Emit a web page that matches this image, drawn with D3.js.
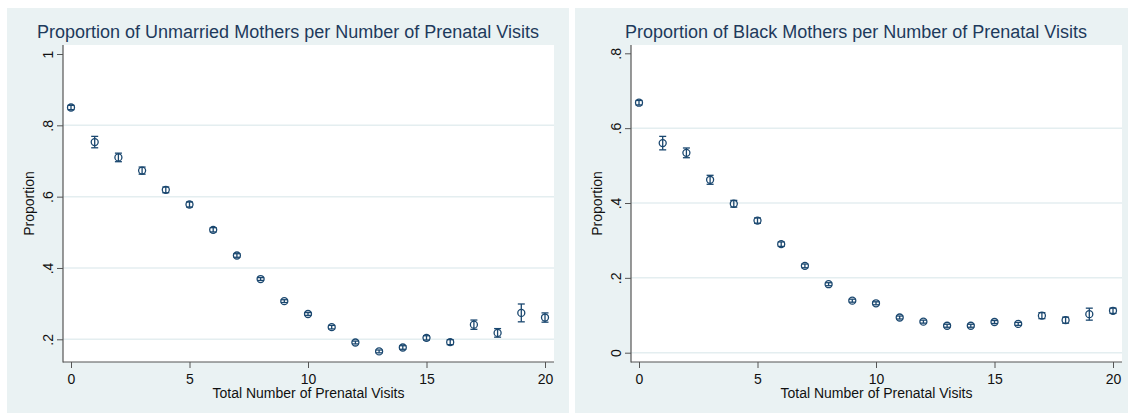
<!DOCTYPE html>
<html>
<head>
<meta charset="utf-8">
<script src="https://cdn.jsdelivr.net/npm/d3@7"></script>
<style>
  html, body { margin: 0; padding: 0; background: #ffffff; }
  svg { display: block; font-family: "Liberation Sans", Arial, sans-serif; }
</style>
</head>
<body>
<svg id="chart" width="1128" height="413"></svg>
<script>
// Number of prenatal visits (x categories)
const visits = [0, 1, 2, 3, 4, 5, 6, 7, 8, 9, 10, 11, 12, 13, 14, 15, 16, 17, 18, 19, 20];

// Proportion of unmarried mothers and the half-width of its confidence interval
const unmarriedProp = [0.850, 0.753, 0.710, 0.673, 0.619, 0.578, 0.507, 0.435, 0.369, 0.307, 0.271,
                       0.234, 0.191, 0.166, 0.177, 0.204, 0.192, 0.241, 0.218, 0.274, 0.261];
const unmarriedErr  = [0.006, 0.016, 0.012, 0.010, 0.008, 0.007, 0.006, 0.005, 0.004, 0.004, 0.004,
                       0.005, 0.004, 0.004, 0.005, 0.006, 0.007, 0.013, 0.012, 0.025, 0.013];

// Proportion of black mothers and the half-width of its confidence interval
const blackProp = [0.668, 0.560, 0.534, 0.462, 0.398, 0.353, 0.290, 0.232, 0.183, 0.139, 0.132,
                   0.094, 0.083, 0.072, 0.072, 0.082, 0.077, 0.099, 0.087, 0.103, 0.112];
const blackErr  = [0.006, 0.018, 0.013, 0.012, 0.009, 0.007, 0.006, 0.005, 0.004, 0.004, 0.004,
                   0.004, 0.004, 0.004, 0.004, 0.004, 0.004, 0.008, 0.008, 0.016, 0.007];

// Axis ticks
const xTicks = [0, 5, 10, 15, 20];
const unmarriedYTicks = [0.2, 0.4, 0.6, 0.8, 1];
const blackYTicks = [0, 0.2, 0.4, 0.6, 0.8];

// Titles
const unmarriedTitle = "Proportion of Unmarried Mothers per Number of Prenatal Visits";
const blackTitle = "Proportion of Black Mothers per Number of Prenatal Visits";
const xTitle = "Total Number of Prenatal Visits";
const yTitle = "Proportion";

const NAVY = "#1a476f";
const BG = "#eaf2f3";
const GRID = "#e4eef0";
const AXIS = "#555555";

const svg = d3.select("#chart");

// Stata-like tick label: ".2", ".4", "0", "1"
const fmt = v => (v === 0 ? "0" : v === 1 ? "1" : String(+v.toFixed(2)).replace(/^0/, ""));

function drawPanel(opt) {
  const px = opt.x0;               // panel left edge
  const W = 562, top = 8;
  const plot = { left: px + 56, right: px + 547, top: 45, bottom: 362 };

  const g = svg.append("g");

  // panel background and plot region
  g.append("rect").attr("x", px).attr("y", top).attr("width", W).attr("height", 413 - top)
    .attr("fill", BG);
  g.append("rect").attr("x", plot.left).attr("y", plot.top)
    .attr("width", plot.right - plot.left).attr("height", plot.bottom - plot.top)
    .attr("fill", "#ffffff");

  const x = d3.scaleLinear().domain([0, 20]).range([px + 64, px + 538]);
  const y = d3.scaleLinear().domain(opt.yDomain).range(opt.yRange);

  // horizontal grid lines (none at the top tick)
  g.append("g").selectAll("line")
    .data(opt.yTicks.slice(0, -1))
    .join("line")
    .attr("x1", plot.left).attr("x2", plot.right)
    .attr("y1", d => y(d)).attr("y2", d => y(d))
    .attr("stroke", GRID).attr("stroke-width", 1.5);

  // y axis ticks and rotated labels
  const yAxis = g.append("g")
    .attr("transform", `translate(${plot.left},0)`)
    .call(d3.axisLeft(y).tickValues(opt.yTicks).tickFormat(fmt).tickSize(6).tickPadding(0).tickSizeOuter(0));
  yAxis.select(".domain").remove();
  yAxis.selectAll(".tick line").attr("stroke", AXIS).attr("stroke-width", 1);
  yAxis.selectAll(".tick text")
    .attr("x", null).attr("dy", null)
    .attr("transform", "translate(-10.5,0) rotate(-90)")
    .attr("text-anchor", "middle")
    .attr("fill", "#111")
    .style("font-size", "14px")
    .style("font-family", '"Liberation Sans", Arial, sans-serif');

  // x axis ticks and labels
  const xAxis = g.append("g")
    .attr("transform", `translate(0,${plot.bottom})`)
    .call(d3.axisBottom(x).tickValues(xTicks).tickFormat(d3.format("d")).tickSize(6).tickPadding(0).tickSizeOuter(0));
  xAxis.select(".domain").remove();
  xAxis.selectAll(".tick line").attr("stroke", AXIS).attr("stroke-width", 1);
  xAxis.selectAll(".tick text")
    .attr("y", 22).attr("dy", null)
    .attr("fill", "#111")
    .style("font-size", "14px")
    .style("font-family", '"Liberation Sans", Arial, sans-serif');

  // axis lines
  g.append("line").attr("x1", plot.left).attr("x2", plot.left)
    .attr("y1", plot.top).attr("y2", plot.bottom + 0.5)
    .attr("stroke", AXIS).attr("stroke-width", 1.2);
  g.append("line").attr("x1", plot.left).attr("x2", plot.right)
    .attr("y1", plot.bottom).attr("y2", plot.bottom)
    .attr("stroke", AXIS).attr("stroke-width", 1.2);

  // error bars with caps
  const rows = visits.map((v, i) => ({ v, p: opt.prop[i], e: opt.err[i] }));
  const eb = g.append("g").attr("stroke", NAVY).attr("stroke-width", 1.3).attr("fill", "none");
  eb.selectAll("line.bar").data(rows).join("line").attr("class", "bar")
    .attr("x1", d => x(d.v)).attr("x2", d => x(d.v))
    .attr("y1", d => y(d.p - d.e)).attr("y2", d => y(d.p + d.e));
  eb.selectAll("line.capHi").data(rows).join("line").attr("class", "capHi")
    .attr("x1", d => x(d.v) - 3.5).attr("x2", d => x(d.v) + 3.5)
    .attr("y1", d => y(d.p + d.e)).attr("y2", d => y(d.p + d.e));
  eb.selectAll("line.capLo").data(rows).join("line").attr("class", "capLo")
    .attr("x1", d => x(d.v) - 3.5).attr("x2", d => x(d.v) + 3.5)
    .attr("y1", d => y(d.p - d.e)).attr("y2", d => y(d.p - d.e));

  // hollow circle markers
  g.append("g").selectAll("circle").data(rows).join("circle")
    .attr("cx", d => x(d.v)).attr("cy", d => y(d.p)).attr("r", 3.5)
    .attr("fill", "none").attr("stroke", NAVY).attr("stroke-width", 1.3);

  // titles
  g.append("text").attr("x", px + W / 2).attr("y", 38)
    .attr("text-anchor", "middle").attr("fill", "#1e3a5c")
    .style("font-size", "18px").text(opt.title);
  g.append("text").attr("x", (plot.left + plot.right) / 2).attr("y", 398)
    .attr("text-anchor", "middle").attr("fill", "#111")
    .style("font-size", "14px").text(xTitle);
  g.append("text")
    .attr("transform", `translate(${px + 27},${(plot.top + plot.bottom) / 2}) rotate(-90)`)
    .attr("text-anchor", "middle").attr("fill", "#111")
    .style("font-size", "14px").text(yTitle);
}

drawPanel({
  x0: 7, title: unmarriedTitle, prop: unmarriedProp, err: unmarriedErr,
  yTicks: unmarriedYTicks, yDomain: [0.2, 1], yRange: [339.3, 54]
});
drawPanel({
  x0: 575, title: blackTitle, prop: blackProp, err: blackErr,
  yTicks: blackYTicks, yDomain: [0, 0.8], yRange: [352.7, 53.3]
});
</script>
</body>
</html>
